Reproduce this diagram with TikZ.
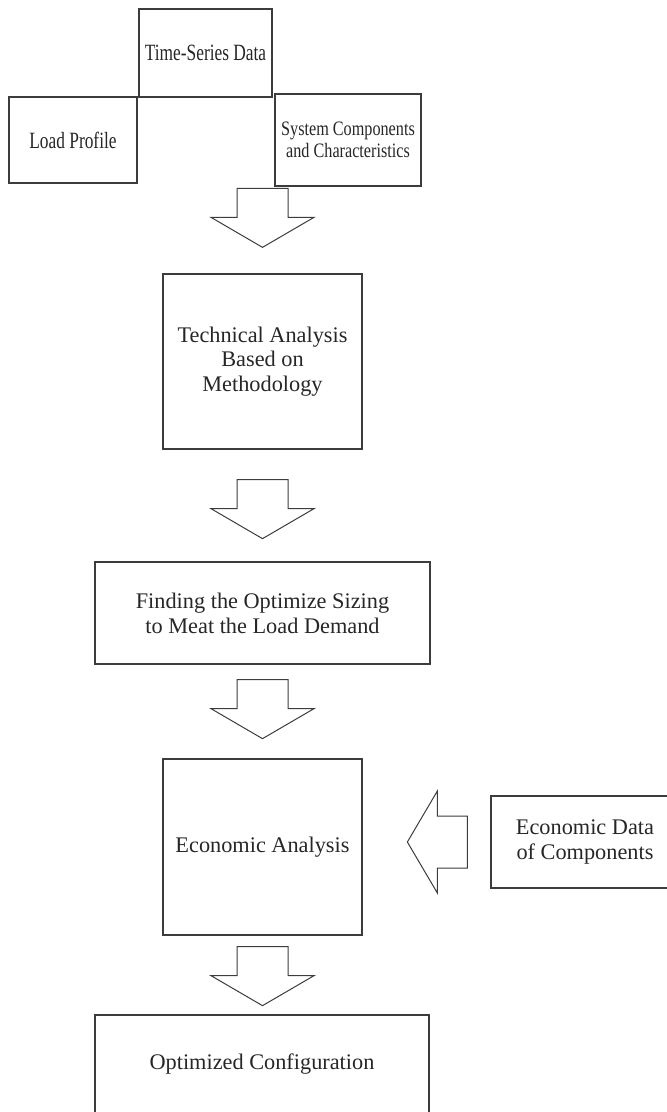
\documentclass[tikz,border=0pt]{standalone}
\usepackage{fontspec}
\usetikzlibrary{calc}
\setmainfont{Liberation Serif}
\newfontfamily\narrowserif{Liberation Serif}[FakeStretch=0.79]
\newfontfamily\tallserif{Liberation Serif}[FakeStretch=0.745]
\definecolor{boxline}{HTML}{3C3C3C}
\definecolor{inkcol}{HTML}{262626}
\begin{document}
\begin{tikzpicture}[x=1pt,y=-1pt,
  box/.style={draw=boxline, line width=1.3pt, inner sep=0pt, align=center,
    text=inkcol, font=\fontsize{22.3}{24.5}\selectfont},
  topbox/.style={box, font=\tallserif\fontsize{23.3}{23.3}\selectfont},
  blockline/.style={draw=boxline, line width=1pt, line join=miter},
  pics/downarrow/.style={code={
    \draw[blockline] (-25.5,0) -- (25.5,0) -- (25.5,29) -- (51.5,29)
      -- (0,59) -- (-51.5,29) -- (-25.5,29) -- cycle;}},
  pics/leftarrow/.style={code={
    \draw[blockline] (0,0) -- (30,-51) -- (30,-26) -- (60,-26)
      -- (60,26) -- (30,26) -- (30,51) -- cycle;}}]
\useasboundingbox (0,0) rectangle (667,1112);
\begin{scope}
\clip (0,0) rectangle (667,1112);

% input boxes
\node[topbox, minimum width=133pt, minimum height=88pt] (ts) at (205.5,53) {Time-Series Data};
\node[topbox, minimum width=128pt, minimum height=86pt] (lp) at (73,140) {Load Profile};
\node[topbox, minimum width=146pt, minimum height=92pt,
      font=\narrowserif\fontsize{20.5}{21.5}\selectfont] (sc) at (348,140)
      {System Components\\and Characteristics};

% main chain
\node[box, minimum width=199pt, minimum height=175pt] (tech) at (262.5,361.5)
      {Technical Analysis\\Based on\\Methodology};
\node[box, minimum width=335pt, minimum height=102pt,
      font=\fontsize{22.3}{25}\selectfont] (find) at (262.5,613)
      {Finding the Optimize Sizing\\to Meat the Load Demand};
\node[box, minimum width=199pt, minimum height=176pt] (econ) at (262.5,847)
      {Economic Analysis};
\node[box, minimum width=188pt, minimum height=92pt] (edata) at (585,842)
      {Economic Data\\of Components};
\node[box, minimum width=334pt, minimum height=98pt] (opt) at (262,1064)
      {Optimized Configuration};

% block arrows between the stages
\pic at ($(tech.north)+(0,-85)$) {downarrow};
\pic at ($(tech.south)+(0,30)$) {downarrow};
\pic at ($(find.south)+(0,15)$) {downarrow};
\pic at ($(econ.south)+(0,11)$) {downarrow};
\pic at ($(edata.west)+(-83,0)$) {leftarrow};
\end{scope}
\end{tikzpicture}
\end{document}
